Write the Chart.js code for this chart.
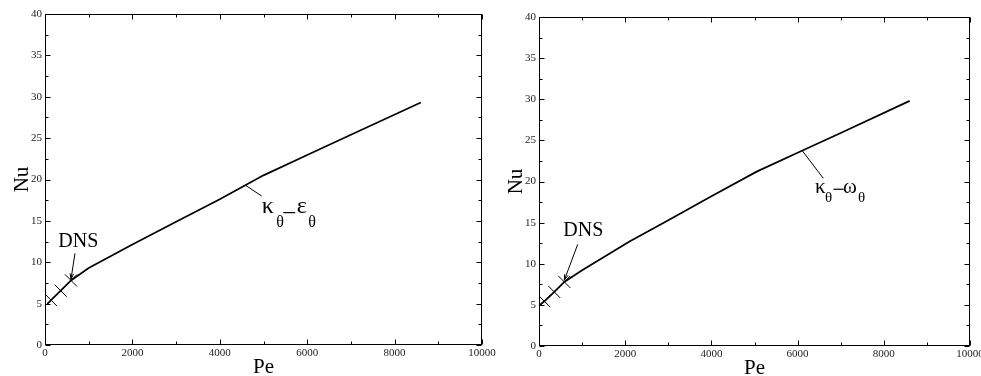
<!DOCTYPE html>
<html><head><meta charset="utf-8">
<script src="https://cdn.jsdelivr.net/npm/chart.js@4/dist/chart.umd.min.js"></script>
<style>
html,body{margin:0;padding:0;background:#fff;overflow:hidden;width:981px;height:376px;}
.panel{position:absolute;top:0;width:520px;height:376px;}
canvas{display:block;}
</style></head><body>
<div class="panel" style="left:0"><canvas id="c1" width="520" height="376"></canvas></div>
<div class="panel" style="left:490px"><canvas id="c2" width="520" height="376"></canvas></div>
<script>
// ---- data ----
const xTickValues = [0, 2000, 4000, 6000, 8000, 10000];
const yTickValues = [0, 5, 10, 15, 20, 25, 30, 35, 40];

const peKeLeft = [50, 137, 359, 595, 1000, 2000, 3000, 4000, 5000, 6000, 7000, 8600];
const nuKeLeft = [4.95, 5.43, 6.56, 7.8, 9.3, 12.15, 14.9, 17.6, 20.5, 22.96, 25.4, 29.3];
const peDnsLeft = [137, 359, 595];
const nuDnsLeft = [5.43, 6.56, 7.8];

const peKwRight = [20, 124, 355, 587, 1000, 2100, 3000, 4000, 5050, 6000, 7000, 8600];
const nuKwRight = [5.0, 5.44, 6.57, 7.79, 9.2, 12.7, 15.3, 18.2, 21.2, 23.5, 25.9, 29.8];
const peDnsRight = [124, 355, 587];
const nuDnsRight = [5.44, 6.57, 7.79];

const xTitle = 'Pe';
const yTitle = 'Nu';
const dnsLabel = 'DNS';

// ---- helpers ----
const SERIF = '"Liberation Serif", "DejaVu Serif", serif';
function pts(xs, ys) { return xs.map((v, i) => ({x: v, y: ys[i]})); }

function minorBetween(arr) {
  const out = [];
  for (let i = 0; i < arr.length - 1; i++) out.push((arr[i] + arr[i + 1]) / 2);
  return out;
}

function decorPlugin(ann) {
  return {
    id: 'decor',
    afterDraw(chart) {
      const {ctx, chartArea: a, scales: {x, y}} = chart;
      ctx.save();
      ctx.strokeStyle = '#000';
      ctx.lineWidth = 1;
      const L = Math.round(a.left) + 0.5, R = Math.round(a.right) - 0.5;
      const T = Math.round(a.top) + 0.5, B = Math.round(a.bottom) - 0.5;
      ctx.strokeRect(L, T, R - L, B - T);
      ctx.beginPath();
      const xt = [...xTickValues.map(v => [v, 5]), ...minorBetween(xTickValues).map(v => [v, 3])];
      xt.forEach(([v, len]) => {
        const px = Math.round(x.getPixelForValue(v)) + 0.5;
        ctx.moveTo(px, B); ctx.lineTo(px, B - len);
        ctx.moveTo(px, T); ctx.lineTo(px, T + len);
      });
      const yt = [...yTickValues.map(v => [v, 5]), ...minorBetween(yTickValues).map(v => [v, 3])];
      yt.forEach(([v, len]) => {
        const py = Math.round(y.getPixelForValue(v)) + 0.5;
        ctx.moveTo(L, py); ctx.lineTo(L + len, py);
        ctx.moveTo(R, py); ctx.lineTo(R - len, py);
      });
      ctx.stroke();

      // axis titles
      ctx.fillStyle = '#000';
      ctx.font = '21px ' + SERIF;
      ctx.textAlign = 'center';
      ctx.textBaseline = 'alphabetic';
      ctx.fillText(xTitle, (a.left + a.right) / 2, a.bottom + ann.peDy);
      ctx.save();
      ctx.translate(a.left - ann.nuDx, (a.top + a.bottom) / 2);
      ctx.rotate(-Math.PI / 2);
      ctx.fillText(yTitle, 0, 0);
      ctx.restore();

      // DNS label and arrow
      const P = (p) => [x.getPixelForValue(p[0]), y.getPixelForValue(p[1])];
      ctx.font = '20px ' + SERIF;
      ctx.textAlign = 'left';
      const [dx, dy] = P(ann.dnsText);
      ctx.fillText(dnsLabel, dx, dy);
      const [a0x, a0y] = P(ann.dnsFrom), [a1x, a1y] = P(ann.dnsTo);
      ctx.lineWidth = 1;
      ctx.beginPath(); ctx.moveTo(a0x, a0y); ctx.lineTo(a1x, a1y); ctx.stroke();
      const ang = Math.atan2(a1y - a0y, a1x - a0x);
      ctx.beginPath();
      ctx.moveTo(a1x - 6 * Math.cos(ang - 0.3), a1y - 6 * Math.sin(ang - 0.3));
      ctx.lineTo(a1x, a1y);
      ctx.lineTo(a1x - 6 * Math.cos(ang + 0.3), a1y - 6 * Math.sin(ang + 0.3));
      ctx.stroke();

      // model leader
      const [l0x, l0y] = P(ann.leadFrom), [l1x, l1y] = P(ann.leadTo);
      ctx.beginPath(); ctx.moveTo(l0x, l0y); ctx.lineTo(l1x, l1y); ctx.stroke();

      // model label pieces
      const [kx, ky] = P(ann.labelAt);
      ann.pieces.forEach(pc => {
        if (pc.dash) {
          ctx.lineWidth = 1.2;
          ctx.beginPath();
          ctx.moveTo(kx + pc.dx, ky + pc.dy);
          ctx.lineTo(kx + pc.dx + pc.w, ky + pc.dy);
          ctx.stroke();
        } else {
          ctx.font = pc.size + 'px ' + SERIF;
          ctx.fillText(pc.t, kx + pc.dx, ky + pc.dy);
        }
      });
      ctx.restore();
    }
  };
}

function makeChart(id, peM, nuM, peD, nuD, lay, ann) {
  return new Chart(document.getElementById(id), {
    type: 'scatter',
    data: {
      datasets: [
        {data: pts(peM, nuM), showLine: true, borderColor: '#000', borderWidth: 1.7,
         pointRadius: 0, tension: 0, fill: false},
        {data: pts(peD, nuD), showLine: false, pointStyle: 'crossRot', pointRadius: 8.5,
         borderColor: '#000', borderWidth: 1, backgroundColor: '#000'}
      ]
    },
    options: {
      responsive: false, animation: false, devicePixelRatio: 1,
      layout: {padding: {left: 0, top: lay.top, right: lay.right, bottom: 0}},
      plugins: {legend: {display: false}, tooltip: {enabled: false}, title: {display: false}},
      scales: {
        x: {
          type: 'linear', min: 0, max: 10000,
          grid: {display: false, drawTicks: false}, border: {display: false},
          afterBuildTicks: s => { s.ticks = xTickValues.map(v => ({value: v})); },
          afterFit: s => { s.height = lay.xh; },
          ticks: {color: '#222', padding: 2, font: {family: SERIF, size: 11},
                  maxRotation: 0, autoSkip: false, callback: v => String(v)}
        },
        y: {
          type: 'linear', min: 0, max: 40,
          grid: {display: false, drawTicks: false}, border: {display: false},
          afterBuildTicks: s => { s.ticks = yTickValues.map(v => ({value: v})); },
          afterFit: s => { s.width = lay.yw; },
          ticks: {color: '#222', padding: 3, font: {family: SERIF, size: 11},
                  autoSkip: false, callback: v => String(v)}
        }
      }
    },
    plugins: [decorPlugin(ann)]
  });
}

makeChart('c1', peKeLeft, nuKeLeft, peDnsLeft, nuDnsLeft,
  {top: 14, right: 38, xh: 31, yw: 45},
  {peDy: 28, nuDx: 17,
   dnsText: [304, 11.88], dnsFrom: [686, 11.08], dnsTo: [595, 7.95],
   leadFrom: [4577, 19.34], leadTo: [4959, 18.0], labelAt: [4959, 15.9],
   pieces: [
     {t: 'κ', size: 24, dx: 0, dy: 0},
     {t: 'θ', size: 16, dx: 14.5, dy: 13.4},
     {dash: true, dx: 21.5, dy: -0.8, w: 12},
     {t: 'ε', size: 24, dx: 35, dy: 0},
     {t: 'θ', size: 16, dx: 46.5, dy: 13.4}
   ]});

makeChart('c2', peKwRight, nuKwRight, peDnsRight, nuDnsRight,
  {top: 17, right: 40, xh: 30, yw: 49},
  {peDy: 28, nuDx: 17.5,
   dnsText: [564, 13.4], dnsFrom: [898, 12.36], dnsTo: [587, 8.0],
   leadFrom: [6109, 23.74], leadTo: [6596, 20.39], labelAt: [6404, 18.57],
   pieces: [
     {t: 'κ', size: 21, dx: 0, dy: 0},
     {t: 'θ', size: 15, dx: 10, dy: 8.4},
     {dash: true, dx: 18.5, dy: -4, w: 10},
     {t: 'ω', size: 21, dx: 28, dy: 0},
     {t: 'θ', size: 15, dx: 43, dy: 8.4}
   ]});
</script>
</body></html>
